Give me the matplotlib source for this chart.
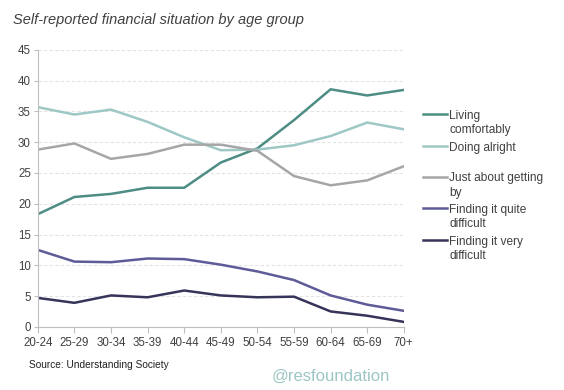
import matplotlib.pyplot as plt
from matplotlib.lines import Line2D

plt.rcParams['font.family'] = ['Liberation Sans', 'DejaVu Sans']

ages = ['20-24', '25-29', '30-34', '35-39', '40-44', '45-49', '50-54',
        '55-59', '60-64', '65-69', '70+']
living_comfortably = [18.3, 21.1, 21.6, 22.6, 22.6, 26.7, 29.0, 33.6, 38.6, 37.6, 38.5]
doing_alright = [35.7, 34.5, 35.3, 33.3, 30.8, 28.7, 28.8, 29.5, 31.0, 33.2, 32.1]
just_getting_by = [28.8, 29.8, 27.3, 28.1, 29.6, 29.6, 28.6, 24.5, 23.0, 23.8, 26.1]
quite_difficult = [12.5, 10.6, 10.5, 11.1, 11.0, 10.1, 9.0, 7.6, 5.1, 3.6, 2.6]
very_difficult = [4.7, 3.9, 5.1, 4.8, 5.9, 5.1, 4.8, 4.9, 2.5, 1.8, 0.8]

series = [
    (living_comfortably, 'Living\ncomfortably', '#4e8d84'),
    (doing_alright, 'Doing alright', '#9ec8c5'),
    (just_getting_by, 'Just about getting\nby', '#a6a6a6'),
    (quite_difficult, 'Finding it quite\ndifficult', '#5f5b98'),
    (very_difficult, 'Finding it very\ndifficult', '#363459'),
]

fig = plt.figure(figsize=(5.64, 3.9), dpi=100)
ax = fig.add_axes([0.067, 0.162, 0.649, 0.710])

x = list(range(len(ages)))
for vals, lab, col in series:
    ax.plot(x, vals, color=col, lw=1.8, solid_joinstyle='round')

ax.set_xlim(0, len(ages) - 1)
ax.set_ylim(0, 45)
ax.set_yticks(range(0, 46, 5))
ax.set_xticks(x)
ax.set_xticklabels(ages)
ax.tick_params(axis='both', labelsize=8.3, colors='#404040')
ax.tick_params(axis='y', length=3, color='#bfbfbf', pad=2)
ax.tick_params(axis='x', length=4, color='#bfbfbf', pad=3)
ax.grid(axis='y', color='#e3e3e3', ls=(0, (3, 2)), lw=0.8)
ax.set_axisbelow(True)
for s in ['top', 'right']:
    ax.spines[s].set_visible(False)
for s in ['left', 'bottom']:
    ax.spines[s].set_color('#bfbfbf')

# legend drawn by hand so that each entry has the same height
leg_y = [114, 146, 177, 208, 240]
for (vals, lab, col), yp in zip(series, leg_y):
    yf = 1 - yp / 390
    fig.add_artist(Line2D([423 / 564, 447 / 564], [yf, yf], color=col, lw=1.8))
    fig.text(449 / 564, yf + 4.5 / 390, lab, fontsize=8.6, color='#404040',
             va='top', ha='left', linespacing=1.3)

fig.text(13 / 564, 1 - 20 / 390, 'Self-reported financial situation by age group',
         fontsize=10.5, style='italic', color='#404040', va='center')
fig.text(29 / 564, 1 - 365 / 390, 'Source: Understanding Society',
         fontsize=7.3, color='#202020', va='center')
fig.text(272 / 564, 1 - 376 / 390, '@resfoundation', fontsize=12,
         color='#9cc6c4', va='center')

fig.savefig('out.png', dpi=100)
